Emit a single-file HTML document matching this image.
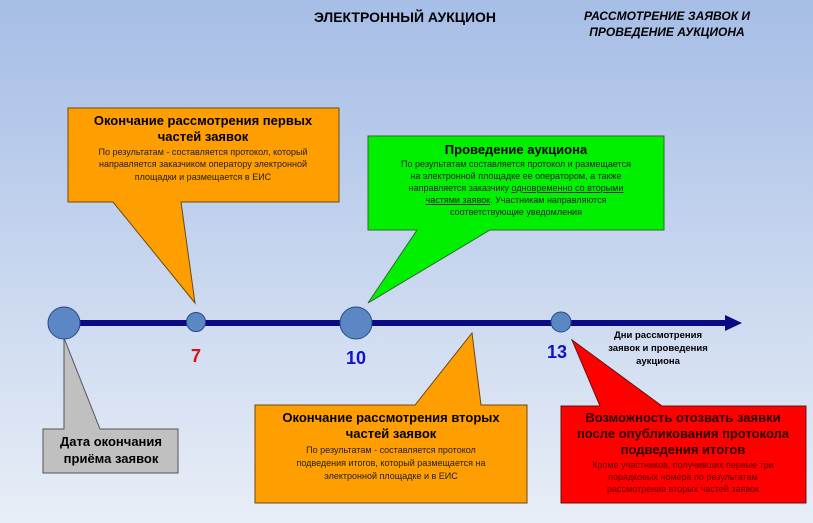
<!DOCTYPE html>
<html><head><meta charset="utf-8"><style>
html,body{margin:0;padding:0;width:813px;height:523px;overflow:hidden}
svg{display:block}
text{font-family:"Liberation Sans",sans-serif;text-anchor:middle}
.t{font-weight:bold;font-size:13px;fill:#000}
.b{font-size:9px;fill:#222}
</style></head><body>
<svg width="813" height="523" viewBox="0 0 813 523" xmlns="http://www.w3.org/2000/svg">
<defs><linearGradient id="bg" x1="0" y1="0" x2="0" y2="1">
<stop offset="0" stop-color="#a6bde6"/><stop offset="1" stop-color="#e8eef7"/></linearGradient></defs>
<rect width="813" height="523" fill="url(#bg)"/>
<text x="405" y="22" style="font-weight:bold;font-size:14px">ЭЛЕКТРОННЫЙ АУКЦИОН</text>
<text x="667" y="20" style="font-weight:bold;font-style:italic;font-size:12px">РАССМОТРЕНИЕ ЗАЯВОК И</text>
<text x="667" y="36" style="font-weight:bold;font-style:italic;font-size:12px">ПРОВЕДЕНИЕ АУКЦИОНА</text>

<rect x="63" y="320" width="665" height="6" fill="#0a0a86"/>
<polygon points="725,315 742,323 725,331" fill="#0a0a86"/>

<path d="M68,108 H339 V202 H181 L195,303 L113,202 H68 Z" fill="#ff9e00" stroke="#6b4a10" stroke-width="1"/>
<text class="t" x="203" y="125">Окончание рассмотрения первых</text>
<text class="t" x="203" y="141">частей заявок</text>
<text class="b" x="203" y="155">По результатам - составляется протокол, который</text>
<text class="b" x="203" y="167">направляется заказчиком оператору электронной</text>
<text class="b" x="203" y="180">площадки и размещается в ЕИС</text>

<path d="M368,136 H664 V230 H490 L368,303 L417,230 H368 Z" fill="#00f000" stroke="#2c6a2c" stroke-width="1"/>
<text class="t" x="516" y="154">Проведение аукциона</text>
<text class="b" x="516" y="167">По результатам составляется протокол и размещается</text>
<text class="b" x="516" y="179">на электронной площадке ее оператором, а также</text>
<text class="b" x="516" y="191">направляется заказчику <tspan text-decoration="underline">одновременно со вторыми</tspan></text>
<text class="b" x="516" y="203"><tspan text-decoration="underline">частями заявок</tspan>. Участникам направляются</text>
<text class="b" x="516" y="215">соответствующие уведомления</text>

<path d="M43,429 H64 L64,338 L100,429 H178 V473 H43 Z" fill="#c0c0c0" stroke="#555" stroke-width="1"/>
<text class="t" x="111" y="446">Дата окончания</text>
<text class="t" x="111" y="463">приёма заявок</text>

<path d="M255,405 H415 L472,333 L481,405 H527 V503 H255 Z" fill="#ff9e00" stroke="#6b4a10" stroke-width="1"/>
<text class="t" x="391" y="422">Окончание рассмотрения вторых</text>
<text class="t" x="391" y="438">частей заявок</text>
<text class="b" x="391" y="453">По результатам - составляется протокол</text>
<text class="b" x="391" y="466">подведения итогов, который размещается на</text>
<text class="b" x="391" y="479">электронной площадке и в ЕИС</text>

<path d="M561,406 H600 L572,340 L662,406 H806 V503 H561 Z" fill="#ff0000" stroke="#6a1010" stroke-width="1"/>
<text class="t" x="683" y="422" style="fill:#2a0000">Возможность отозвать заявки</text>
<text class="t" x="683" y="438" style="fill:#2a0000">после опубликования протокола</text>
<text class="t" x="683" y="454" style="fill:#2a0000">подведения итогов</text>
<text class="b" x="683" y="468" style="fill:#5a0000">Кроме участников, получивших первые три</text>
<text class="b" x="683" y="480" style="fill:#5a0000">порядковых номера по результатам</text>
<text class="b" x="683" y="492" style="fill:#5a0000">рассмотрения вторых частей заявок</text>

<circle cx="64" cy="323" r="16" fill="#5b87c5" stroke="#2a4a80"/>
<circle cx="196" cy="322" r="9.5" fill="#5b87c5" stroke="#2a4a80"/>
<circle cx="356" cy="323" r="16" fill="#5b87c5" stroke="#2a4a80"/>
<circle cx="561" cy="322" r="10" fill="#5b87c5" stroke="#2a4a80"/>

<text x="196" y="362" style="font-weight:bold;font-size:18px;fill:#e01010">7</text>
<text x="356" y="364" style="font-weight:bold;font-size:18px;fill:#1010d0">10</text>
<text x="557" y="358" style="font-weight:bold;font-size:18px;fill:#1010d0">13</text>

<text x="658" y="338" style="font-weight:bold;font-size:9.5px">Дни рассмотрения</text>
<text x="658" y="351" style="font-weight:bold;font-size:9.5px">заявок и проведения</text>
<text x="658" y="364" style="font-weight:bold;font-size:9.5px">аукциона</text>
</svg>
</body></html>
